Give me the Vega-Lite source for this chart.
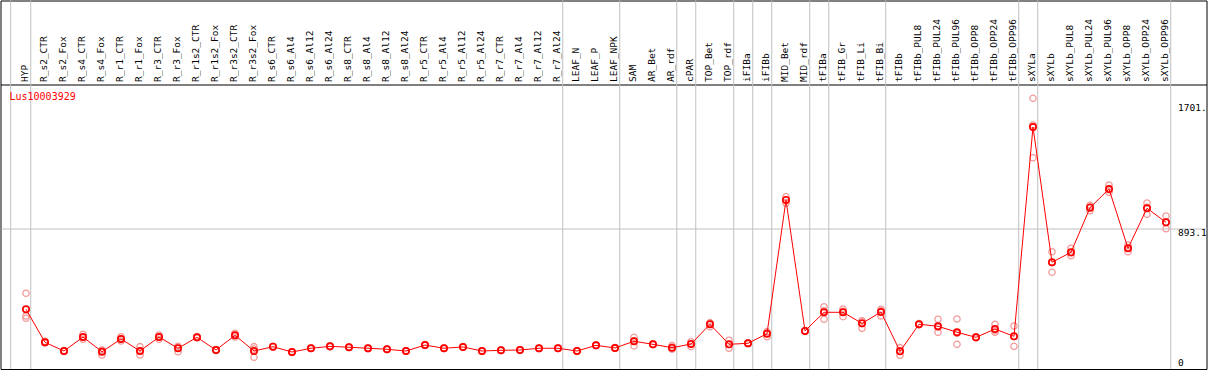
{
  "$schema": "https://vega.github.io/schema/vega-lite/v6.json",
  "width": 1206,
  "height": 368.5,
  "autosize": {"type": "none"},
  "padding": {"left": 0.5, "top": 0.5, "right": 2.5, "bottom": 1},
  "background": "white",
  "config": {"view": {"stroke": "black", "strokeWidth": 1, "fill": "white"}, "font": "DejaVu Sans Mono"},
  "title": {"text": "Lus10003929", "anchor": "start", "frame": "group", "orient": "top", "offset": -102, "baseline": "top", "dx": 9, "color": "#ff0000", "font": "DejaVu Sans Mono", "fontSize": 10, "fontWeight": "normal"},
  "data": {"values": [
    {"i": 0, "name": "HYP", "mean": 337, "r1": 447, "r2": 291, "r3": 275, "end": true},
    {"i": 1, "name": "R_s2_CTR", "mean": 110, "r1": 105, "r2": 110, "r3": 116},
    {"i": 2, "name": "R_s2_Fox", "mean": 50, "r1": 47, "r2": 50, "r3": 53},
    {"i": 3, "name": "R_s4_CTR", "mean": 146, "r1": 165, "r2": 131, "r3": 143},
    {"i": 4, "name": "R_s4_Fox", "mean": 45, "r1": 57, "r2": 23, "r3": 55},
    {"i": 5, "name": "R_r1_CTR", "mean": 133, "r1": 148, "r2": 119, "r3": 133},
    {"i": 6, "name": "R_r1_Fox", "mean": 50, "r1": 80, "r2": 23, "r3": 48},
    {"i": 7, "name": "R_r3_CTR", "mean": 146, "r1": 160, "r2": 131, "r3": 146},
    {"i": 8, "name": "R_r3_Fox", "mean": 69, "r1": 78, "r2": 45, "r3": 83},
    {"i": 9, "name": "R_r1s2_CTR", "mean": 144, "r1": 140, "r2": 144, "r3": 149},
    {"i": 10, "name": "R_r1s2_Fox", "mean": 57, "r1": 54, "r2": 57, "r3": 60},
    {"i": 11, "name": "R_r3s2_CTR", "mean": 158, "r1": 172, "r2": 146, "r3": 158},
    {"i": 12, "name": "R_r3s2_Fox", "mean": 50, "r1": 80, "r2": 7, "r3": 63},
    {"i": 13, "name": "R_s6_CTR", "mean": 80, "r1": 77, "r2": 80, "r3": 83},
    {"i": 14, "name": "R_s6_Al4", "mean": 43, "r1": 40, "r2": 43, "r3": 46},
    {"i": 15, "name": "R_s6_Al12", "mean": 69, "r1": 67, "r2": 69, "r3": 72},
    {"i": 16, "name": "R_s6_Al24", "mean": 82, "r1": 80, "r2": 82, "r3": 85},
    {"i": 17, "name": "R_s8_CTR", "mean": 76, "r1": 74, "r2": 76, "r3": 79},
    {"i": 18, "name": "R_s8_Al4", "mean": 69, "r1": 66, "r2": 69, "r3": 71},
    {"i": 19, "name": "R_s8_Al12", "mean": 62, "r1": 60, "r2": 62, "r3": 65},
    {"i": 20, "name": "R_s8_Al24", "mean": 50, "r1": 48, "r2": 50, "r3": 53},
    {"i": 21, "name": "R_r5_CTR", "mean": 91, "r1": 88, "r2": 91, "r3": 94},
    {"i": 22, "name": "R_r5_Al4", "mean": 69, "r1": 67, "r2": 69, "r3": 72},
    {"i": 23, "name": "R_r5_Al12", "mean": 78, "r1": 75, "r2": 78, "r3": 80},
    {"i": 24, "name": "R_r5_Al24", "mean": 50, "r1": 47, "r2": 50, "r3": 52},
    {"i": 25, "name": "R_r7_CTR", "mean": 55, "r1": 53, "r2": 55, "r3": 58},
    {"i": 26, "name": "R_r7_Al4", "mean": 57, "r1": 55, "r2": 57, "r3": 60},
    {"i": 27, "name": "R_r7_Al12", "mean": 69, "r1": 66, "r2": 69, "r3": 71},
    {"i": 28, "name": "R_r7_Al24", "mean": 69, "r1": 67, "r2": 69, "r3": 72, "end": true},
    {"i": 29, "name": "LEAF_N", "mean": 50, "r1": 48, "r2": 50, "r3": 53},
    {"i": 30, "name": "LEAF_P", "mean": 89, "r1": 86, "r2": 89, "r3": 92},
    {"i": 31, "name": "LEAF_NPK", "mean": 71, "r1": 68, "r2": 71, "r3": 74, "end": true},
    {"i": 32, "name": "SAM", "mean": 117, "r1": 144, "r2": 85, "r3": 120},
    {"i": 33, "name": "AR_Bet", "mean": 96, "r1": 93, "r2": 96, "r3": 99},
    {"i": 34, "name": "AR_rdf", "mean": 73, "r1": 87, "r2": 62, "r3": 70, "end": true},
    {"i": 35, "name": "cPAR", "mean": 98, "r1": 114, "r2": 80, "r3": 100, "end": true},
    {"i": 36, "name": "TOP_Bet", "mean": 234, "r1": 245, "r2": 217, "r3": 240},
    {"i": 37, "name": "TOP_rdf", "mean": 96, "r1": 124, "r2": 69, "r3": 95, "end": true},
    {"i": 38, "name": "iFIBa", "mean": 103, "r1": 100, "r2": 103, "r3": 106, "end": true},
    {"i": 39, "name": "iFIBb", "mean": 169, "r1": 183, "r2": 148, "r3": 176, "end": true},
    {"i": 40, "name": "MID_Bet", "mean": 1088, "r1": 1110, "r2": 1065, "r3": 1088},
    {"i": 41, "name": "MID_rdf", "mean": 188, "r1": 185, "r2": 188, "r3": 191, "end": true},
    {"i": 42, "name": "tFIBa", "mean": 316, "r1": 354, "r2": 268, "r3": 326, "end": true},
    {"i": 43, "name": "tFIB_Gr", "mean": 316, "r1": 339, "r2": 286, "r3": 323},
    {"i": 44, "name": "tFIB_Li", "mean": 240, "r1": 258, "r2": 206, "r3": 256},
    {"i": 45, "name": "tFIB_Bi", "mean": 318, "r1": 337, "r2": 291, "r3": 326, "end": true},
    {"i": 46, "name": "tFIBb", "mean": 48, "r1": 73, "r2": 21, "r3": 50},
    {"i": 47, "name": "tFIBb_PUL8", "mean": 234, "r1": 230, "r2": 234, "r3": 238},
    {"i": 48, "name": "tFIBb_PUL24", "mean": 220, "r1": 268, "r2": 179, "r3": 213},
    {"i": 49, "name": "tFIBb_PUL96", "mean": 179, "r1": 270, "r2": 96, "r3": 171},
    {"i": 50, "name": "tFIBb_OPP8", "mean": 144, "r1": 140, "r2": 144, "r3": 148},
    {"i": 51, "name": "tFIBb_OPP24", "mean": 201, "r1": 234, "r2": 179, "r3": 190},
    {"i": 52, "name": "tFIBb_OPP96", "mean": 151, "r1": 222, "r2": 82, "r3": 149, "end": true},
    {"i": 53, "name": "sXYLa", "mean": 1589, "r1": 1786, "r2": 1378, "r3": 1603, "end": true},
    {"i": 54, "name": "sXYLb", "mean": 660, "r1": 732, "r2": 591, "r3": 657},
    {"i": 55, "name": "sXYLb_PUL8", "mean": 728, "r1": 756, "r2": 705, "r3": 723},
    {"i": 56, "name": "sXYLb_PUL24", "mean": 1035, "r1": 1051, "r2": 1014, "r3": 1040},
    {"i": 57, "name": "sXYLb_PUL96", "mean": 1163, "r1": 1191, "r2": 1140, "r3": 1158},
    {"i": 58, "name": "sXYLb_OPP8", "mean": 756, "r1": 778, "r2": 732, "r3": 758},
    {"i": 59, "name": "sXYLb_OPP24", "mean": 1031, "r1": 1067, "r2": 989, "r3": 1037},
    {"i": 60, "name": "sXYLb_OPP96", "mean": 934, "r1": 978, "r2": 890, "r3": 934, "end": true}
  ]},
  "encoding": {
    "x": {
      "field": "i", "type": "quantitative",
      "scale": {"domain": [-1.3421, 62.1316], "nice": false, "zero": false},
      "axis": {"orient": "top", "offset": -84, "title": null, "ticks": false, "grid": false, "domain": true, "domainColor": "black", "domainWidth": 1,
        "values": [0,1,2,3,4,5,6,7,8,9,10,11,12,13,14,15,16,17,18,19,20,21,22,23,24,25,26,27,28,29,30,31,32,33,34,35,36,37,38,39,40,41,42,43,44,45,46,47,48,49,50,51,52,53,54,55,56,57,58,59,60],
        "labelExpr": "['HYP','R_s2_CTR','R_s2_Fox','R_s4_CTR','R_s4_Fox','R_r1_CTR','R_r1_Fox','R_r3_CTR','R_r3_Fox','R_r1s2_CTR','R_r1s2_Fox','R_r3s2_CTR','R_r3s2_Fox','R_s6_CTR','R_s6_Al4','R_s6_Al12','R_s6_Al24','R_s8_CTR','R_s8_Al4','R_s8_Al12','R_s8_Al24','R_r5_CTR','R_r5_Al4','R_r5_Al12','R_r5_Al24','R_r7_CTR','R_r7_Al4','R_r7_Al12','R_r7_Al24','LEAF_N','LEAF_P','LEAF_NPK','SAM','AR_Bet','AR_rdf','cPAR','TOP_Bet','TOP_rdf','iFIBa','iFIBb','MID_Bet','MID_rdf','tFIBa','tFIB_Gr','tFIB_Li','tFIB_Bi','tFIBb','tFIBb_PUL8','tFIBb_PUL24','tFIBb_PUL96','tFIBb_OPP8','tFIBb_OPP24','tFIBb_OPP96','sXYLa','sXYLb','sXYLb_PUL8','sXYLb_PUL24','sXYLb_PUL96','sXYLb_OPP8','sXYLb_OPP24','sXYLb_OPP96'][datum.value]",
        "labelAngle": -90, "labelFont": "DejaVu Sans Mono", "labelFontSize": 9.5, "labelColor": "black", "labelPadding": 3, "labelOffset": -1.5, "labelOverlap": false, "labelFlush": false, "labelBound": false}
    }
  },
  "layer": [
    {
      "transform": [{"filter": "datum.end"}],
      "mark": {"type": "rule", "color": "#c0c0c0", "strokeWidth": 1, "xOffset": 4.75},
      "encoding": {}
    },
    {
      "transform": [{"filter": "datum.name == 'HYP'"}],
      "mark": {"type": "rule", "color": "#c0c0c0", "strokeWidth": 1, "xOffset": -15.3},
      "encoding": {}
    },
    {
      "transform": [{"fold": ["r1", "r2", "r3"], "as": ["rep", "rv"]}],
      "mark": {"type": "point", "shape": "circle", "filled": false, "size": 40, "stroke": "#f29a9a", "strokeWidth": 1.3, "opacity": 1},
      "encoding": {
        "y": {"field": "rv", "type": "quantitative", "title": null, "scale": {"domain": [-73.5, 2458.1], "nice": false, "zero": false}}
      }
    },
    {
      "mark": {"type": "line", "color": "#ff0000", "strokeWidth": 1},
      "encoding": {
        "y": {"field": "mean", "type": "quantitative", "title": null, "scale": {"domain": [-73.5, 2458.1], "nice": false, "zero": false},
          "axis": {"orient": "right", "offset": -36, "title": null, "values": [0, 893.1, 1701], "labelExpr": "datum.value == 0 ? '0' : slice(format(datum.value, '.1f'), 0, 5)", "ticks": false, "domain": false, "grid": true, "gridColor": {"condition": {"test": "datum.value == 893.1", "value": "#c0c0c0"}, "value": "transparent"}, "gridWidth": 1, "labelAlign": "left", "labelBaseline": "top", "labelPadding": 7, "labelOffset": {"condition": {"test": "datum.value > 1000", "value": -8}, "value": -0.5}, "labelFont": "DejaVu Sans Mono", "labelFontSize": 9.5, "labelColor": "black"}
        }
      }
    },
    {
      "mark": {"type": "point", "shape": "circle", "filled": false, "size": 40, "stroke": "#ff0000", "strokeWidth": 1.7, "opacity": 1},
      "encoding": {
        "y": {"field": "mean", "type": "quantitative", "title": null, "scale": {"domain": [-73.5, 2458.1], "nice": false, "zero": false}}
      }
    }
  ]
}
